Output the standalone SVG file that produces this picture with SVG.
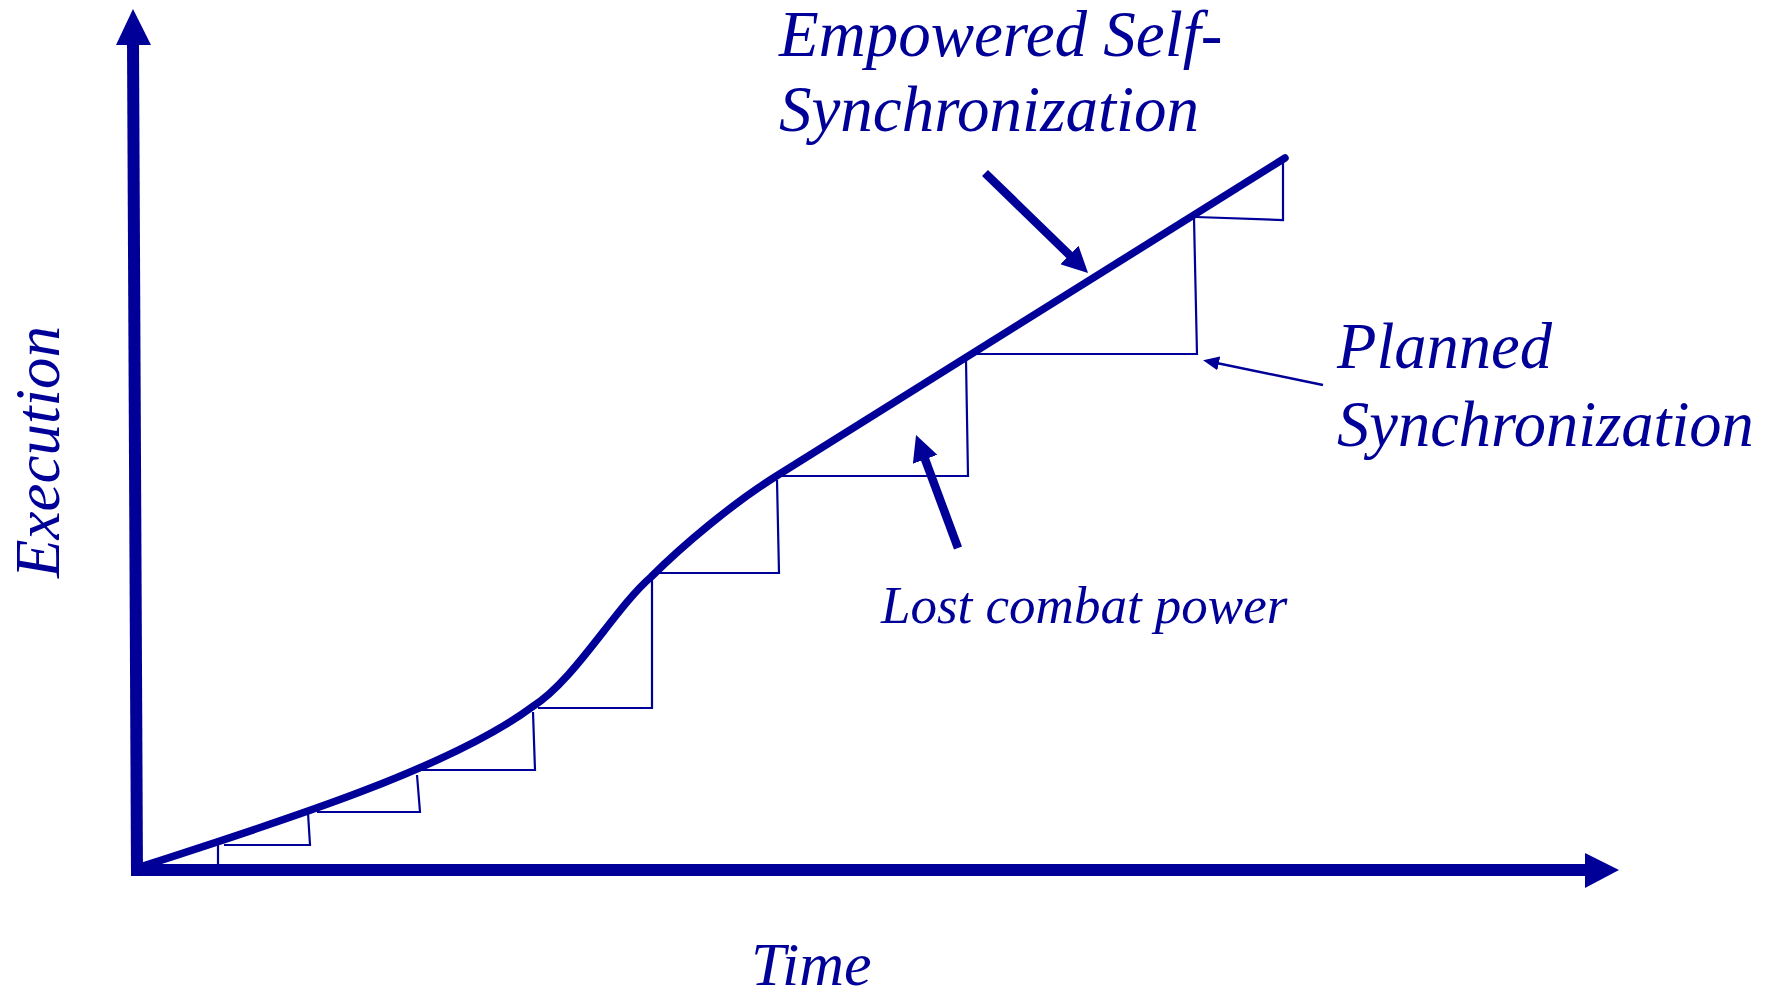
<svg xmlns="http://www.w3.org/2000/svg" width="1775" height="996" viewBox="0 0 1775 996">
<style>
.lbl{font-family:"Liberation Serif","Times New Roman",serif;font-style:italic;fill:#000099}
.axis{stroke:#000099;stroke-width:12;fill:none}
.curve{stroke:#000099;stroke-width:7.5;fill:none;stroke-linecap:round}
.step{stroke:#000099;stroke-width:2.2;fill:none}
.thick{stroke:#000099;stroke-width:8.5;fill:none}
.thin{stroke:#000099;stroke-width:2.5;fill:none}
</style>
<defs>
<marker id="headThick" viewBox="0 0 26 26" markerWidth="26" markerHeight="26" markerUnits="userSpaceOnUse" refX="6" refY="13" orient="auto"><path d="M0,0 L26,13 L0,26 z" fill="#000099"/></marker>
<marker id="headThin" viewBox="0 0 16 14" markerWidth="16" markerHeight="14" markerUnits="userSpaceOnUse" refX="12" refY="7" orient="auto"><path d="M0,0 L16,7 L0,14 z" fill="#000099"/></marker>
</defs>
<rect width="1775" height="996" fill="#ffffff"/>
<g id="axes">
<line class="axis" x1="137" y1="876" x2="133" y2="42"/>
<polygon points="133,9 151,45 116,45" fill="#000099"/>
<line class="axis" x1="131" y1="870" x2="1587" y2="870"/>
<polygon points="1585,853 1619,870 1585,888" fill="#000099"/>
</g>
<g id="planned-steps">
<path class="step" d="M218,843 L218,868 M224,845 L310,845 L308,813 M317,812 L420,812 L417,775 M419,770 L535,770 L533,712 M538,708 L652,708 L652,578 M652,573 L779,573 L777,480 M778,476 L968,476 L966,360 M967,354 L1197,354 L1194,218 M1196,217 L1283,220 L1283,158"/>
</g>
<g id="execution-curve">
<path class="curve" d="M137,868 C280,822 450,768 532,707 C575,680 615,608 651,577 C683,545 733,503 778,475 L1285,158"/>
</g>
<g id="connectors">
<line class="thick" x1="985" y1="173" x2="1073.7" y2="259.1" marker-end="url(#headThick)"/>
<line class="thick" x1="958" y1="548" x2="923" y2="453.7" marker-end="url(#headThick)"/>
<line class="thin" x1="1323" y1="385" x2="1207" y2="361" marker-end="url(#headThin)"/>
</g>
<g id="label-empowered">
<text class="lbl" x="779" y="56" font-size="65">Empowered Self-</text>
<text class="lbl" x="779" y="131" font-size="65">Synchronization</text>
</g>
<g id="label-planned">
<text class="lbl" x="1337" y="368" font-size="64.5">Planned</text>
<text class="lbl" x="1337" y="446" font-size="64.5">Synchronization</text>
</g>
<g id="label-lost">
<text class="lbl" x="881" y="623" font-size="53">Lost combat power</text>
</g>
<g id="label-time">
<text class="lbl" x="751" y="985" font-size="62">Time</text>
</g>
<g id="label-execution">
<text class="lbl" x="0" y="0" font-size="63" text-anchor="middle" transform="translate(59,452) rotate(-90)">Execution</text>
</g>
</svg>
